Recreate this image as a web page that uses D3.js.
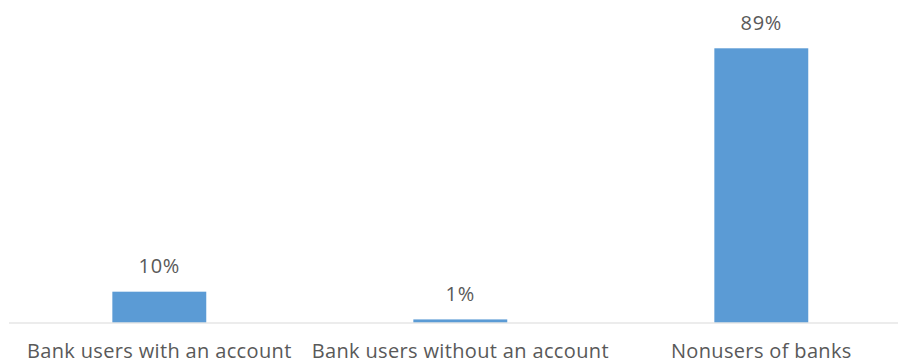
<!DOCTYPE html>
<html><head><meta charset="utf-8">
<script src="https://cdn.jsdelivr.net/npm/d3@7"></script>
<style>body{margin:0;background:#fff}svg{display:block}</style>
</head><body>
<svg id="c" width="900" height="364"></svg>
<script>
const categories = ["Bank users with an account", "Bank users without an account", "Nonusers of banks"];
const values = [10, 1, 89];
const valueLabels = ["10%", "1%", "89%"];

const svg = d3.select("#c");
const baseY = 322.5;
const x = d3.scaleBand().domain(categories).range([8.8, 911.8]).paddingInner(0.688).paddingOuter(0.344);
const y = d3.scaleLinear().domain([0, 89]).range([baseY, 48.3]);

svg.selectAll("rect.bar").data(values).join("rect")
  .attr("class", "bar")
  .attr("x", (d, i) => x(categories[i]))
  .attr("width", x.bandwidth())
  .attr("y", d => y(d))
  .attr("height", d => baseY - y(d))
  .attr("fill", "#5B9BD5");

svg.append("line").attr("x1", 9).attr("x2", 898).attr("y1", baseY + 0.5).attr("y2", baseY + 0.5)
  .attr("stroke", "#D9D9D9").attr("stroke-width", 1);

svg.selectAll("text.val").data(values).join("text")
  .attr("class", "val")
  .attr("x", (d, i) => x(categories[i]) + x.bandwidth() / 2)
  .attr("y", d => y(d) - 18.8)
  .attr("text-anchor", "middle")
  .attr("font-family", "Open Sans")
  .attr("font-size", 20)
  .attr("letter-spacing", 0.8)
  .attr("fill", "#595959")
  .text((d, i) => valueLabels[i]);

svg.selectAll("text.cat").data(categories).join("text")
  .attr("class", "cat")
  .attr("x", d => x(d) + x.bandwidth() / 2)
  .attr("y", 358)
  .attr("text-anchor", "middle")
  .attr("font-family", "Open Sans")
  .attr("font-size", 20)
  .attr("letter-spacing", 0.35)
  .attr("fill", "#595959")
  .text(d => d);
</script>
</body></html>
